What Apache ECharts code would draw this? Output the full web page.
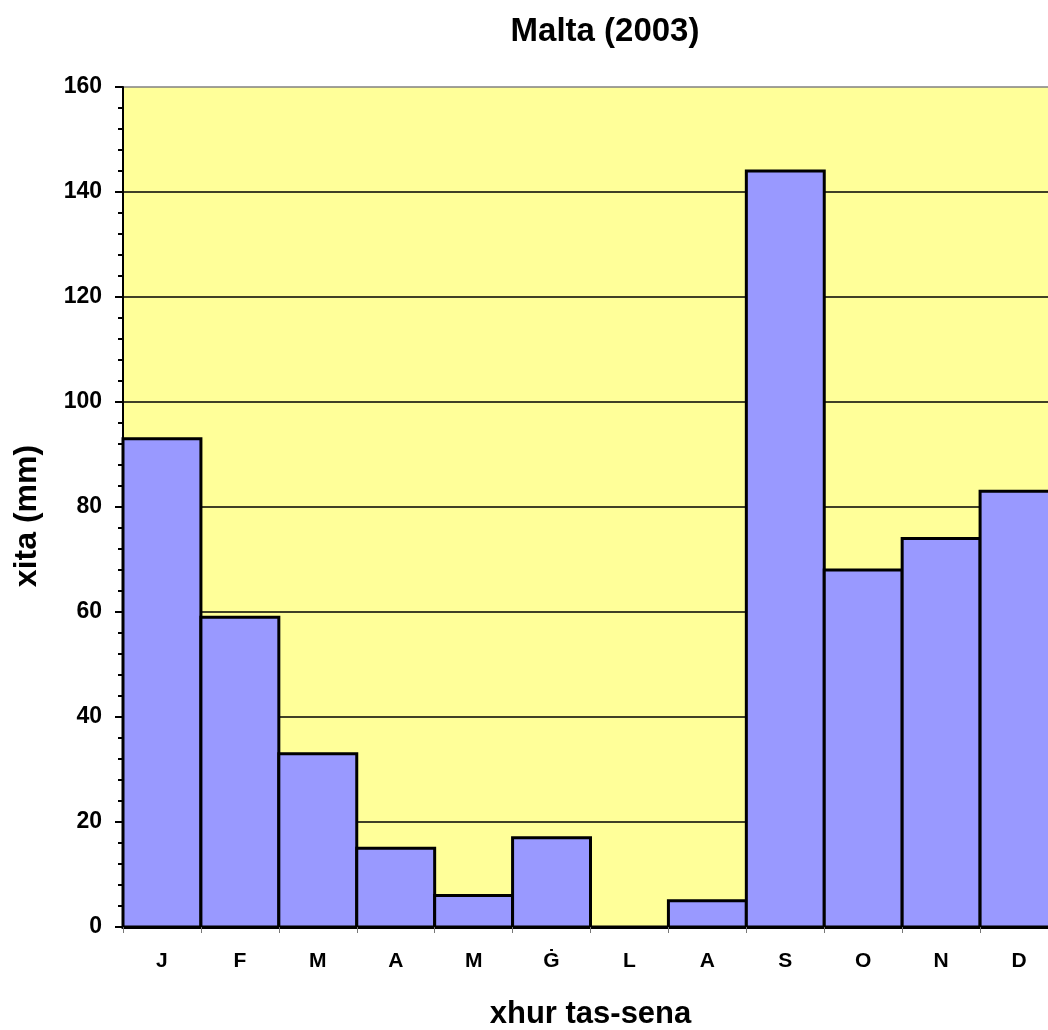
<!DOCTYPE html>
<html><head><meta charset="utf-8">
<script src="https://cdn.jsdelivr.net/npm/echarts@6/dist/echarts.min.js"></script>
<style>html,body{margin:0;padding:0;background:#fff}#c{width:1048px;height:1030px}</style>
</head><body><div id="c"></div>
<script>
const categories = ['J','F','M','A','M','Ġ','L','A','S','O','N','D'];
const rainfall = [93, 59, 33, 15, 6, 17, 0, 5, 144, 68, 74, 83];
const yTicks = {min: 0, max: 160, interval: 20};

const chart = echarts.init(document.getElementById('c'));
const font = 'Liberation Sans, Arial, sans-serif';
const splitColors = ['#000','#000','#000','#000','#000','#000','#000','#000','#808080'];
chart.setOption({
  animation: false,
  backgroundColor: '#ffffff',
  title: {
    text: 'Malta (2003)', left: 600, top: 10, textAlign: 'center',
    textStyle: {fontFamily: font, fontSize: 33, fontWeight: 'bold', color: '#000'}
  },
  grid: {left: 123, top: 87, width: 935, height: 840, outerBoundsMode: 'none', containLabel: false,
         show: true, backgroundColor: '#FFFF99', borderWidth: 0},
  xAxis: {
    type: 'category', data: categories,
    name: 'xhur tas-sena', nameLocation: 'middle', nameGap: 72,
    nameTextStyle: {fontFamily: font, fontSize: 31, fontWeight: 'bold', color: '#000'},
    axisLine: {lineStyle: {color: '#000', width: 3}},
    axisTick: {show: true, length: 6, lineStyle: {color: '#777', width: 1}},
    axisLabel: {fontFamily: font, fontSize: 21, fontWeight: 'bold', color: '#000', margin: 24},
    z: 5
  },
  yAxis: {
    type: 'value', min: yTicks.min, max: yTicks.max, interval: yTicks.interval,
    name: 'xita (mm)', nameLocation: 'middle', nameGap: 80,
    nameTextStyle: {fontFamily: font, fontSize: 32, fontWeight: 'bold', color: '#000', padding: [0, 18, 0, 0]},
    axisLine: {show: true, lineStyle: {color: '#000', width: 2}},
    axisTick: {show: true, length: 8, lineStyle: {color: '#000', width: 2}},
    minorTick: {show: true, splitNumber: 5, length: 5, lineStyle: {color: '#000', width: 2}},
    splitLine: {show: true, lineStyle: {color: splitColors, width: 1.5}},
    axisLabel: {fontFamily: font, fontSize: 23, fontWeight: 'bold', color: '#000', margin: 21}
  },
  series: [{
    type: 'custom',
    data: rainfall.map((v, i) => [i, v]),
    encode: {x: 0, y: 1},
    renderItem: function (params, api) {
      const top = api.coord([api.value(0), api.value(1)]);
      const base = api.coord([api.value(0), 0]);
      const w = api.size([1, 0])[0];
      return {
        type: 'rect',
        shape: {x: top[0] - w / 2, y: top[1], width: w, height: base[1] - top[1]},
        style: {fill: '#9999FF', stroke: '#000', lineWidth: 3}
      };
    },
    z: 3
  }]
});
</script>
</body></html>
